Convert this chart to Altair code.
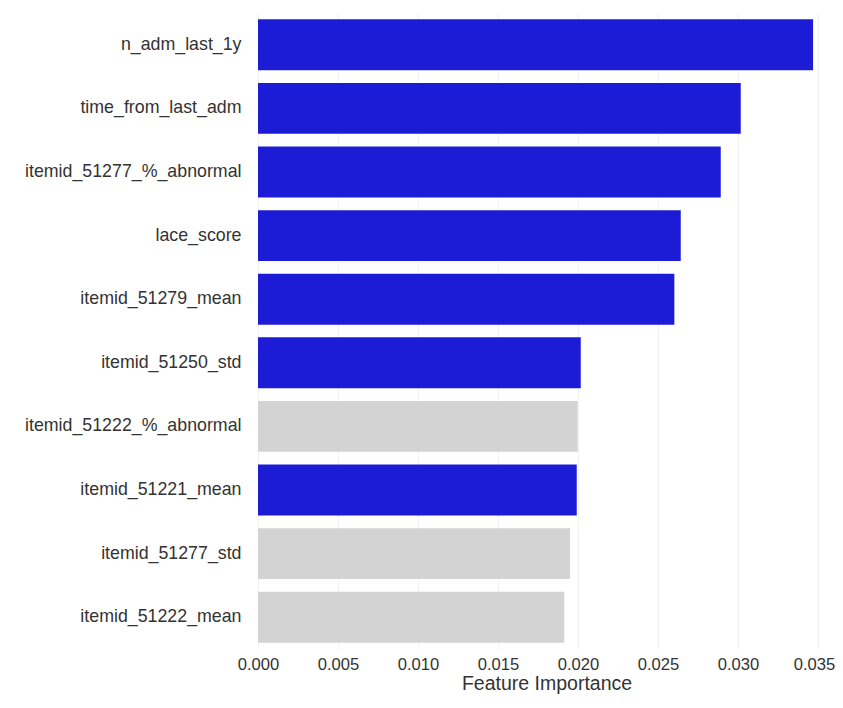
import altair as alt
import pandas as pd

features = [
    "n_adm_last_1y",
    "time_from_last_adm",
    "itemid_51277_%_abnormal",
    "lace_score",
    "itemid_51279_mean",
    "itemid_51250_std",
    "itemid_51222_%_abnormal",
    "itemid_51221_mean",
    "itemid_51277_std",
    "itemid_51222_mean",
]
importance = [0.03469, 0.03017, 0.02892, 0.02642, 0.02602, 0.02017, 0.01998, 0.01992, 0.01950, 0.01914]
group = ["highlight", "highlight", "highlight", "highlight", "highlight", "highlight",
         "other", "highlight", "other", "other"]
x_ticks = [0.000, 0.005, 0.010, 0.015, 0.020, 0.025, 0.030, 0.035]

df = pd.DataFrame({"feature": features, "importance": importance, "group": group})

FONT = "Liberation Sans"
TEXT = "#333333"

chart = (
    alt.Chart(df)
    .mark_bar()
    .encode(
        x=alt.X(
            "importance:Q",
            scale=alt.Scale(domain=[0, 0.03606], nice=False, zero=True),
            axis=alt.Axis(
                title="Feature Importance",
                values=x_ticks,
                format=".3f",
                grid=True,
                gridColor="#f1f1f1",
                gridWidth=1,
                domain=False,
                ticks=False,
                labelPadding=7,
                labelFontSize=16.6,
                labelFont=FONT,
                labelColor=TEXT,
                labelOffset={"condition": {"test": "datum.value >= 0.0349", "value": -4}, "value": 0},
                titleFont=FONT,
                titleFontSize=19.5,
                titleFontWeight="normal",
                titleColor=TEXT,
                titlePadding=2,
                labelFlush=False,
            ),
        ),
        y=alt.Y(
            "feature:N",
            sort=features,
            scale=alt.Scale(paddingInner=0.2, paddingOuter=0.1),
            axis=alt.Axis(
                title=None,
                grid=False,
                domain=False,
                ticks=False,
                labelPadding=17,
                labelFontSize=17.8,
                labelFont=FONT,
                labelColor=TEXT,
                labelLimit=400,
            ),
        ),
        color=alt.Color(
            "group:N",
            scale=alt.Scale(domain=["highlight", "other"], range=["#1c1cd6", "#d3d3d3"]),
            legend=None,
        ),
    )
    .properties(
        width=577,
        height=636,
        autosize=alt.AutoSizeParams(type="none"),
        padding={"left": 250, "top": 5, "right": 0, "bottom": 47},
    )
    .configure(background="white")
    .configure_view(stroke=None)
)

chart.save("out.html", embed_options={"renderer": "svg", "actions": False})
